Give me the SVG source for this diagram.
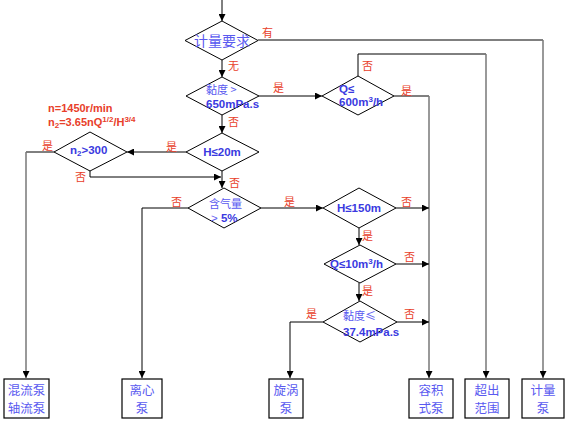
<svg xmlns="http://www.w3.org/2000/svg" width="565" height="421" viewBox="0 0 565 421">
<style>
.d{fill:#fff;stroke:#000;stroke-width:1}
.b{fill:#fff;stroke:#000;stroke-width:1.2}
.c{fill:none;stroke:#000;stroke-width:1}
.g{fill:none;stroke:#777;stroke-width:1.5}
.cj{font-family:"Noto Sans CJK SC","Noto Sans",sans-serif;fill:#5a5af0}
.bx{font-family:"Noto Sans CJK SC","Noto Sans",sans-serif;fill:#5a5af0;font-size:12.5px;text-anchor:middle}
.bt{font-family:"Liberation Sans",Arial,sans-serif;font-weight:bold;fill:#3a3ae0;font-size:11.5px}
.lb{font-family:"Noto Sans CJK SC",sans-serif;fill:#e8402a;font-size:11px}
.note{font-family:"Liberation Sans",Arial,sans-serif;font-weight:bold;fill:#e8402a;font-size:11px}
</style>
<defs>
<marker id="a" viewBox="0 0 8 8" refX="8" refY="4" markerWidth="7" markerHeight="7" markerUnits="userSpaceOnUse" orient="auto"><path d="M0,0 L8,4 L0,8 z" fill="#000"/></marker>
</defs>
<rect width="565" height="421" fill="#fff"/>
<g id="connectors">
<path class="c" d="M222,0 V21" marker-end="url(#a)"/>
<path class="c" d="M258,40 H543"/>
<path class="g" d="M543,40 V378" marker-end="url(#a)"/>
<path class="c" d="M222,60 V77" marker-end="url(#a)"/>
<path class="c" d="M259,96 H322" marker-end="url(#a)"/>
<path class="c" d="M358,76 V54 H486"/>
<path class="g" d="M486,54 V378" marker-end="url(#a)"/>
<path class="c" d="M394,96 H429"/>
<path class="g" d="M429,96 V378" marker-end="url(#a)"/>
<path class="c" d="M222,115 V133" marker-end="url(#a)"/>
<path class="c" d="M186,152 H127" marker-end="url(#a)"/>
<path class="c" d="M54,152 H26"/>
<path class="g" d="M26,152 V378" marker-end="url(#a)"/>
<path class="c" d="M90,171 V177 H221" marker-end="url(#a)"/>
<path class="c" d="M222,171 V188" marker-end="url(#a)"/>
<path class="c" d="M188,208 H142 V378" marker-end="url(#a)"/>
<path class="c" d="M261,208 H323" marker-end="url(#a)"/>
<path class="c" d="M396,208 H429" marker-end="url(#a)"/>
<path class="c" d="M359,228 V245" marker-end="url(#a)"/>
<path class="c" d="M396,264 H429" marker-end="url(#a)"/>
<path class="c" d="M359,283 V301" marker-end="url(#a)"/>
<path class="c" d="M397,322 H429" marker-end="url(#a)"/>
<path class="c" d="M323,322 H290 V378" marker-end="url(#a)"/>
</g>
<g id="labels">
<text class="lb" x="262" y="37">有</text>
<text class="lb" x="228" y="70">无</text>
<text class="lb" x="273" y="92">是</text>
<text class="lb" x="228" y="126">否</text>
<text class="lb" x="362" y="70">否</text>
<text class="lb" x="401" y="95">是</text>
<text class="lb" x="166" y="151">是</text>
<text class="lb" x="42" y="150">是</text>
<text class="lb" x="75" y="181">否</text>
<text class="lb" x="229" y="187">否</text>
<text class="lb" x="171" y="206">否</text>
<text class="lb" x="284" y="206">是</text>
<text class="lb" x="401" y="206">否</text>
<text class="lb" x="362" y="240">是</text>
<text class="lb" x="404" y="261">否</text>
<text class="lb" x="362" y="295">是</text>
<text class="lb" x="306" y="318">是</text>
<text class="lb" x="404" y="318">否</text>
<text class="note" x="48" y="112">n=1450r/min</text>
<text class="note" x="48" y="126">n<tspan font-size="8" dy="2">2</tspan><tspan dy="-2">=3.65nQ</tspan><tspan font-size="8" dy="-4">1/2</tspan><tspan dy="4">/H</tspan><tspan font-size="8" dy="-4">3/4</tspan></text>
</g>
<g id="n1">
<polygon class="d" points="222,21 258,40.5 222,60 185,40.5"/>
<text class="cj" x="222" y="46" font-size="14" text-anchor="middle">计量要求</text>
</g>
<g id="n2">
<polygon class="d" points="222,77 259,96 222,115 186,96"/>
<text class="cj" font-size="11" x="206" y="94">黏度 &gt;</text>
<text class="bt" x="206" y="108">650mPa.s</text>
</g>
<g id="n3">
<polygon class="d" points="358,76 394,96 358,115 322,96"/>
<text class="bt" x="339" y="93">Q≤</text>
<text class="bt" x="339" y="106">600m<tspan font-size="8" dy="-4">3</tspan><tspan dy="4">/h</tspan></text>
</g>
<g id="n4">
<polygon class="d" points="222,133 259,152 222,171 186,152"/>
<text class="bt" x="222" y="156" text-anchor="middle" font-size="12">H≤20m</text>
</g>
<g id="n5">
<polygon class="d" points="90,132 127,152 90,171 54,152"/>
<text class="bt" x="70" y="154">n<tspan font-size="8" dy="2">2</tspan><tspan dy="-2">&gt;300</tspan></text>
</g>
<g id="n6">
<polygon class="d" points="224,188 261,208 224,228 188,208"/>
<text class="cj" font-size="11" x="209" y="208">含气量</text>
<text class="bt" x="211" y="222"><tspan font-weight="normal" fill="#5a5af0">&gt; </tspan>5%</text>
</g>
<g id="n7">
<polygon class="d" points="359,188 396,208 359,228 323,208"/>
<text class="bt" x="359" y="212" text-anchor="middle" font-size="12">H≤150m</text>
</g>
<g id="n8">
<polygon class="d" points="360,245 396,264 360,283 324,264"/>
<text class="bt" x="330" y="268">Q≤10m<tspan font-size="8" dy="-4">3</tspan><tspan dy="4">/h</tspan></text>
</g>
<g id="n9">
<polygon class="d" points="360,301 397,322 360,342 323,322"/>
<text class="cj" font-size="11" x="343" y="320">黏度≤</text>
<text class="bt" x="343" y="336">37.4mPa.s</text>
</g>
<g id="b1">
<rect class="b" x="4" y="379" width="45" height="39"/>
<text class="bx" x="26.5" y="394.5">混流泵</text>
<text class="bx" x="26.5" y="412.8">轴流泵</text>
</g>
<g id="b2">
<rect class="b" x="122" y="379" width="40" height="39"/>
<text class="bx" x="142" y="394.5">离心</text>
<text class="bx" x="142" y="412.8">泵</text>
</g>
<g id="b3">
<rect class="b" x="269" y="379" width="34" height="39"/>
<text class="bx" x="286" y="394.5">旋涡</text>
<text class="bx" x="286" y="412.8">泵</text>
</g>
<g id="b4">
<rect class="b" x="409" y="379" width="44" height="39"/>
<text class="bx" x="431" y="394.5">容积</text>
<text class="bx" x="431" y="412.8">式泵</text>
</g>
<g id="b5">
<rect class="b" x="465" y="379" width="44" height="39"/>
<text class="bx" x="487" y="394.5">超出</text>
<text class="bx" x="487" y="412.8">范围</text>
</g>
<g id="b6">
<rect class="b" x="522" y="379" width="42" height="39"/>
<text class="bx" x="543" y="394.5">计量</text>
<text class="bx" x="543" y="412.8">泵</text>
</g>
</svg>
